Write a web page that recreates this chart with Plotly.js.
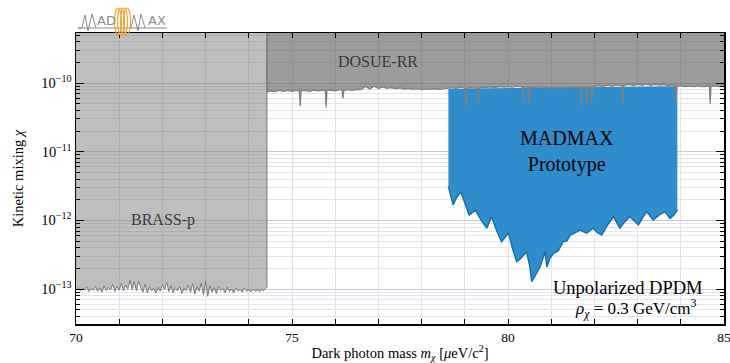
<!DOCTYPE html>
<html>
<head>
<meta charset="utf-8">
<script src="https://cdn.plot.ly/plotly-3.0.1.min.js"></script>
<style>html,body{margin:0;padding:0;background:#fff;}#chart{width:730px;height:363px;}</style>
</head>
<body>
<div id="chart"></div>
<script>
// ---------------- DATA ----------------
const brassX = [70.00,70.05,70.10,70.15,70.20,70.25,70.30,70.35,70.40,70.45,70.50,70.55,70.60,70.65,70.70,70.75,70.80,70.85,70.90,70.95,
  71.00,71.05,71.10,71.15,71.20,71.25,71.30,71.35,71.40,71.45,71.50,71.55,71.60,71.65,71.70,71.75,71.80,71.85,71.90,71.95,
  72.00,72.05,72.10,72.15,72.20,72.25,72.30,72.35,72.40,72.45,72.50,72.55,72.60,72.65,72.70,72.75,72.80,72.85,72.90,72.95,
  73.00,73.05,73.10,73.15,73.20,73.25,73.30,73.35,73.40,73.45,73.50,73.55,73.60,73.65,73.70,73.75,73.80,73.85,73.90,73.95,
  74.00,74.05,74.10,74.15,74.20,74.25,74.30,74.35,74.40,74.42];
const brassY = [0.98e-13,1.05e-13,0.94e-13,1.03e-13,0.97e-13,1.08e-13,0.92e-13,1.02e-13,0.96e-13,1.10e-13,0.93e-13,1.04e-13,0.90e-13,1.12e-13,0.95e-13,1.06e-13,0.97e-13,1.18e-13,0.92e-13,1.10e-13,
  0.96e-13,1.22e-13,0.94e-13,1.14e-13,1.00e-13,1.35e-13,0.98e-13,1.28e-13,0.95e-13,1.30e-13,1.05e-13,0.90e-13,1.18e-13,0.88e-13,1.08e-13,0.95e-13,1.02e-13,0.87e-13,1.06e-13,0.93e-13,
  1.15e-13,0.98e-13,1.25e-13,0.92e-13,1.12e-13,0.88e-13,1.05e-13,0.94e-13,1.10e-13,0.86e-13,1.02e-13,0.95e-13,1.14e-13,0.90e-13,1.20e-13,0.85e-13,1.08e-13,0.93e-13,1.22e-13,0.82e-13,
  1.30e-13,0.78e-13,1.12e-13,0.90e-13,1.05e-13,0.86e-13,1.10e-13,0.95e-13,1.02e-13,0.88e-13,1.06e-13,0.92e-13,1.00e-13,0.87e-13,1.04e-13,0.94e-13,0.98e-13,0.90e-13,1.03e-13,0.93e-13,
  0.97e-13,0.91e-13,0.99e-13,0.94e-13,0.96e-13,0.92e-13,0.98e-13,0.95e-13,1.04e-13,1.06e-13];

const dosueX = [74.42,74.5,74.6,74.7,74.8,74.9,75.0,75.1,75.17,75.19,75.21,75.3,75.4,75.5,75.6,75.7,75.77,75.79,75.81,75.9,
  76.0,76.1,76.16,76.18,76.2,76.3,76.4,76.5,76.6,76.7,76.8,76.9,77.0,77.1,77.2,77.3,77.4,77.5,77.6,77.7,
  77.8,77.9,78.0,78.1,78.2,78.3,78.4,78.5,78.6,78.7,78.8,78.9,79.0,79.03,79.06,79.15,79.29,79.31,79.33,79.4,
  79.5,79.6,79.7,79.8,79.9,80.0,80.1,80.2,80.33,80.35,80.37,80.47,80.49,80.51,80.6,80.7,80.8,80.9,81.0,81.1,
  81.2,81.3,81.4,81.5,81.6,81.67,81.69,81.72,81.81,81.83,81.86,81.92,81.94,81.96,82.1,82.2,82.3,82.4,82.5,82.64,
  82.66,82.68,82.8,82.9,83.0,83.1,83.2,83.3,83.4,83.5,83.6,83.7,83.8,83.87,83.89,83.91,84.0,84.1,84.2,84.3,
  84.4,84.5,84.66,84.68,84.7,84.8,84.9,85.0];
const dosueY = [7.4e-11,7.7e-11,7.5e-11,7.8e-11,7.6e-11,7.8e-11,7.6e-11,7.8e-11,7.7e-11,4.6e-11,7.7e-11,7.8e-11,7.6e-11,7.9e-11,7.7e-11,7.9e-11,7.8e-11,4.4e-11,7.8e-11,7.9e-11,
  7.7e-11,8.0e-11,7.8e-11,6.0e-11,7.8e-11,8.0e-11,7.8e-11,8.1e-11,8.0e-11,8.9e-11,8.2e-11,9.0e-11,8.3e-11,8.8e-11,8.4e-11,8.6e-11,8.3e-11,8.5e-11,8.2e-11,8.4e-11,
  8.1e-11,8.3e-11,8.0e-11,8.2e-11,8.1e-11,8.3e-11,8.1e-11,8.2e-11,8.4e-11,8.6e-11,8.4e-11,8.7e-11,8.5e-11,4.4e-11,8.5e-11,8.6e-11,8.5e-11,5.1e-11,8.5e-11,8.7e-11,
  8.6e-11,8.8e-11,8.6e-11,8.9e-11,8.7e-11,8.9e-11,8.7e-11,9.0e-11,8.8e-11,5.4e-11,8.8e-11,8.7e-11,5.0e-11,8.7e-11,8.6e-11,8.8e-11,8.5e-11,8.7e-11,8.4e-11,8.6e-11,
  8.4e-11,8.6e-11,8.5e-11,8.7e-11,8.6e-11,8.5e-11,4.7e-11,8.6e-11,8.6e-11,4.8e-11,8.7e-11,8.7e-11,5.1e-11,8.8e-11,9.2e-11,8.9e-11,9.3e-11,9.0e-11,9.4e-11,9.2e-11,
  4.8e-11,9.2e-11,9.6e-11,9.2e-11,9.6e-11,9.3e-11,9.7e-11,9.3e-11,9.6e-11,9.3e-11,9.5e-11,9.2e-11,9.4e-11,9.2e-11,5.1e-11,9.2e-11,9.1e-11,8.9e-11,9.1e-11,8.9e-11,
  9.1e-11,8.9e-11,9.0e-11,5.0e-11,9.0e-11,9.1e-11,8.9e-11,9.0e-11];

const madmaxX = [78.62,78.68,78.73,78.80,78.91,79.00,79.10,79.17,79.24,79.38,79.51,79.57,79.62,79.74,79.85,79.93,80.01,80.10,80.20,80.30,80.43,80.50,80.55,80.64,80.74,80.86,80.90,80.97,81.05,81.16,81.28,81.36,81.44,81.55,81.67,81.82,
  81.97,82.07,82.17,82.30,82.44,82.59,82.70,82.82,83.02,83.12,83.21,83.36,83.50,83.63,83.75,83.84,83.92];
const madmaxY = [3.1e-12,2.2e-12,1.68e-12,2.1e-12,2.6e-12,1.8e-12,1.2e-12,1.3e-12,1.42e-12,1.0e-12,7.7e-13,9.5e-13,1.13e-12,7.0e-13,4.9e-13,5.6e-13,6.6e-13,4.0e-13,2.5e-13,2.8e-13,3.5e-13,2.2e-13,1.28e-13,1.6e-13,2.1e-13,3.5e-13,2.1e-13,2.8e-13,3.3e-13,3.6e-13,4.9e-13,5.0e-13,6.1e-13,6.6e-13,7.2e-13,6.5e-13,
  7.7e-13,6.6e-13,6.1e-13,8.5e-13,1.13e-12,7.7e-13,9.5e-13,1.13e-12,8.6e-13,1.1e-12,1.34e-12,1.01e-12,1.2e-12,1.34e-12,1.07e-12,1.2e-12,1.42e-12];
// upper edge of the MADMAX region (at its right and left ends)
const madmaxUpperX = [83.92, 78.62];
const madmaxUpperY = [9.0e-11, 8.3e-11];

const xTickVals = [70,71,72,73,74,75,76,77,78,79,80,81,82,83,84,85];
const xTickText = ['70','','','','','75','','','','','80','','','','','85'];
const yTickVals = [1e-13,1e-12,1e-11,1e-10];
const yTickText = ['10<sup>−13</sup>','10<sup>−12</sup>','10<sup>−11</sup>','10<sup>−10</sup>'];

// ---------------- helpers ----------------
const FILL_TOP = 1e-9; // beyond the visible range, fill is clipped
const L = 76, R = 724, T = 33, B = 324;
const px = v => (v - L) / (R - L);
const py = v => (B - v) / (B - T);

const minorY = [];
for (let e = -14; e <= -9; e++) for (let d = 2; d <= 9; d++) minorY.push(d * Math.pow(10, e));

const serif = 'Liberation Serif, Times New Roman, serif';

const traces = [
  { // BRASS-p
    x: brassX.concat([brassX[brassX.length-1], brassX[0]]),
    y: brassY.concat([FILL_TOP, FILL_TOP]),
    fill: 'toself', fillcolor: 'rgba(120,120,120,0.48)',
    mode: 'lines', line: {color: '#7a7a7a', width: 1},
    hoverinfo: 'skip', showlegend: false
  },
  { // DOSUE-RR fill
    x: dosueX.concat([dosueX[dosueX.length-1], dosueX[0]]),
    y: dosueY.concat([FILL_TOP, FILL_TOP]),
    fill: 'toself', fillcolor: 'rgba(85,85,85,0.58)',
    mode: 'lines', line: {color: 'rgba(0,0,0,0)', width: 0},
    hoverinfo: 'skip', showlegend: false
  },
  { // MADMAX fill
    x: madmaxX.concat(madmaxUpperX),
    y: madmaxY.concat(madmaxUpperY),
    fill: 'toself', fillcolor: '#2f8dcc',
    mode: 'lines', line: {color: 'rgba(0,0,0,0)', width: 0},
    hoverinfo: 'skip', showlegend: false
  },
  { // MADMAX lower edge
    x: madmaxX, y: madmaxY, mode: 'lines',
    line: {color: '#1b6fae', width: 1.5},
    hoverinfo: 'skip', showlegend: false
  },
  { // DOSUE-RR edge
    x: [dosueX[0]].concat(dosueX), y: [FILL_TOP].concat(dosueY),
    mode: 'lines', line: {color: '#7f7f7f', width: 1.2},
    hoverinfo: 'skip', showlegend: false
  }
];

// logo shapes
const logoGray = '#8a8a8a';
const pth = pts => pts.map((p,i) => (i ? 'L' : 'M') + px(p[0]).toFixed(4) + ',' + py(p[1]).toFixed(4)).join(' ');
const shapes = [
  {type:'path', xref:'paper', yref:'paper', path: pth([[78,28],[167,28]]), line:{color:logoGray, width:1}},
  {type:'path', xref:'paper', yref:'paper', path: pth([[78,28],[82,28],[85,15],[88,31],[92,14],[96,28]]), line:{color:logoGray, width:1}},
  {type:'path', xref:'paper', yref:'paper', path: pth([[131,28],[134,15],[138,31],[141,14],[145,28]]), line:{color:logoGray, width:1}}
];
[118,121,124,127].forEach(cx => shapes.push({
  type:'circle', xref:'paper', yref:'paper',
  x0: px(cx-3.5), x1: px(cx+3.5), y0: py(35), y1: py(8),
  line:{color:'#f2a33a', width:1.2}
}));

const ann = (text, x, y, font) => ({text, xref:'paper', yref:'paper', x:px(x), y:py(y), xanchor:'center', yanchor:'middle', showarrow:false, font});
const annotations = [
  ann('AD', 106, 21, {family:'DejaVu Sans, sans-serif', size:13, color:logoGray}),
  ann('AX', 157, 21, {family:'DejaVu Sans, sans-serif', size:13, color:logoGray}),
  ann('DOSUE-RR', 378, 61, {family:serif, size:16, color:'#3a3a3a'}),
  ann('BRASS-p', 163, 220, {family:serif, size:16, color:'#3a3a3a'}),
  ann('MADMAX<br>Prototype', 567, 151, {family:serif, size:20, color:'#000'}),
  ann('Unpolarized DPDM', 628, 288, {family:serif, size:18.5, color:'#000'}),
  ann('<i>ρ</i><sub><i>χ</i></sub> = 0.3 GeV/cm<sup>3</sup>', 636, 308, {family:serif, size:17, color:'#000'})
];

const layout = {
  width: 730, height: 363,
  margin: {l: L, r: 730 - R, t: T, b: 363 - B},
  paper_bgcolor: '#fff', plot_bgcolor: '#fff',
  font: {family: serif, color: '#000'},
  showlegend: false,
  xaxis: {
    range: [70, 85], tickmode: 'array', tickvals: xTickVals, ticktext: xTickText,
    ticks: 'inside', ticklen: 5, tickwidth: 1, tickcolor: '#000',
    showline: true, linecolor: '#000', linewidth: 1.5, mirror: 'allticks',
    showgrid: true, gridcolor: '#e2e2ea', gridwidth: 1, zeroline: false,
    ticklabeloverflow: 'allow',
    tickfont: {family: serif, size: 13.5},
    title: {text: 'Dark photon mass <i>m</i><sub><i>χ</i></sub> [<i>μ</i>eV/c<sup>2</sup>]', font: {family: serif, size: 14.5}, standoff: 6}
  },
  yaxis: {
    type: 'log', range: [-13.51, -9.27],
    tickmode: 'array', tickvals: yTickVals, ticktext: yTickText,
    ticks: 'inside', ticklen: 8, tickwidth: 1, tickcolor: '#000',
    showline: true, linecolor: '#000', linewidth: 1.5, mirror: 'allticks',
    showgrid: true, gridcolor: '#c8c8d6', gridwidth: 1, zeroline: false,
    tickfont: {family: serif, size: 14.5},
    minor: {tickmode: 'array', tickvals: minorY, ticks: 'inside', ticklen: 4, tickcolor: '#000', showgrid: true, gridcolor: '#e4e4ec', gridwidth: 1},
    title: {text: 'Kinetic mixing <i>χ</i>', font: {family: serif, size: 14.5}, standoff: 14}
  },
  shapes: shapes,
  annotations: annotations
};

Plotly.newPlot('chart', traces, layout, {displayModeBar: false, staticPlot: true});
</script>
</body>
</html>
